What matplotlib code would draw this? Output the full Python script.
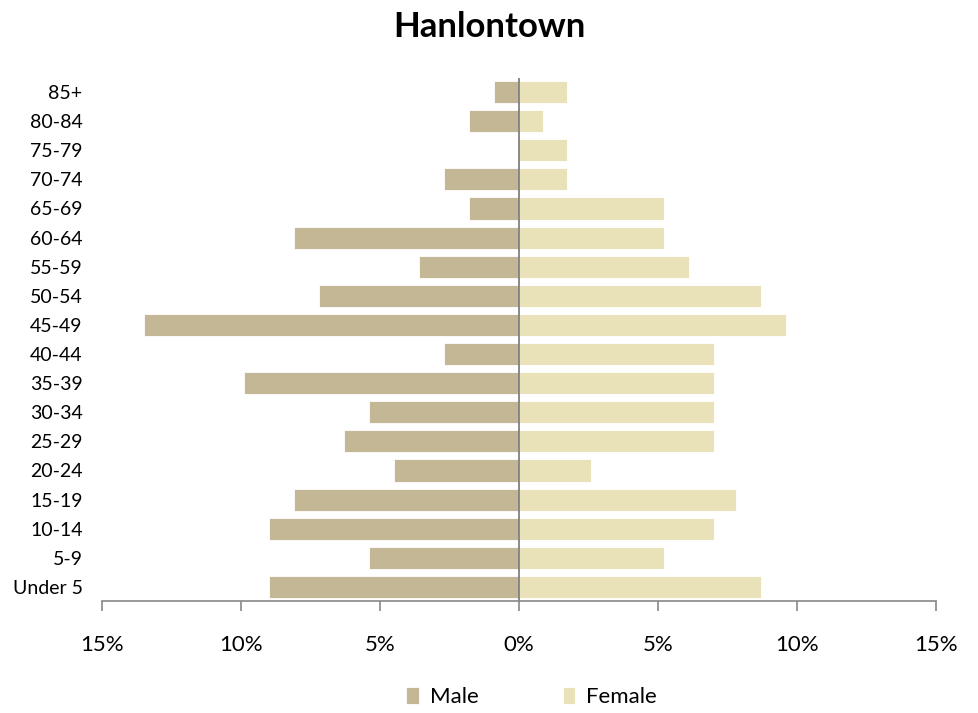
import matplotlib
matplotlib.use("Agg")
import matplotlib.pyplot as plt
from matplotlib.ticker import FuncFormatter

plt.rcParams['font.family'] = ['Lato', 'DejaVu Sans']

age_groups = ["Under 5", "5-9", "10-14", "15-19", "20-24", "25-29", "30-34", "35-39",
              "40-44", "45-49", "50-54", "55-59", "60-64", "65-69", "70-74", "75-79",
              "80-84", "85+"]
male = [9.0, 5.4, 9.0, 8.1, 4.5, 6.3, 5.4, 9.9, 2.7, 13.5, 7.2, 3.6, 8.1, 1.8, 2.7, 0.0, 1.8, 0.9]
female = [8.7, 5.2, 7.0, 7.8, 2.6, 7.0, 7.0, 7.0, 7.0, 9.6, 8.7, 6.1, 5.2, 5.2, 1.74, 1.74, 0.87, 1.74]
x_ticks = [-15, -10, -5, 0, 5, 10, 15]

male_color = "#C4B795"
female_color = "#E9E2B8"

fig = plt.figure(figsize=(9.79, 7.13), dpi=100)
ax = fig.add_axes([0.1042, 0.1564, 0.8519, 0.7349])

y = list(range(len(age_groups)))
ax.barh(y, [-m for m in male], height=0.76, color=male_color, edgecolor="white", linewidth=0.6, label="Male")
ax.barh(y, female, height=0.76, color=female_color, edgecolor="white", linewidth=0.6, label="Female")

ax.set_xlim(-15, 15)
ax.set_ylim(-0.5, len(age_groups) - 0.5)
ax.set_yticks(y)
ax.set_yticklabels(age_groups, fontsize=14)
ax.set_xticks(x_ticks)
ax.xaxis.set_major_formatter(FuncFormatter(lambda v, p: f"{abs(int(v))}%"))
ax.tick_params(axis='x', labelsize=16, length=7, width=1.2, color="#888888", pad=17, direction='out')
ax.tick_params(axis='y', length=0, pad=14)

for s in ["top", "right", "left"]:
    ax.spines[s].set_visible(False)
ax.spines["bottom"].set_color("#888888")
ax.spines["bottom"].set_linewidth(1.2)
ax.axvline(0, color="#808080", linewidth=1.3)

fig.text(0.5, 0.962, "Hanlontown", ha="center", va="center", fontsize=25, fontweight="bold")

fig.legend(loc="center", bbox_to_anchor=(0.543, 0.022), ncol=2, frameon=False, fontsize=16,
           handlelength=0.55, handleheight=0.8, columnspacing=3.8, handletextpad=0.5)

fig.savefig("out.png", dpi=100)
